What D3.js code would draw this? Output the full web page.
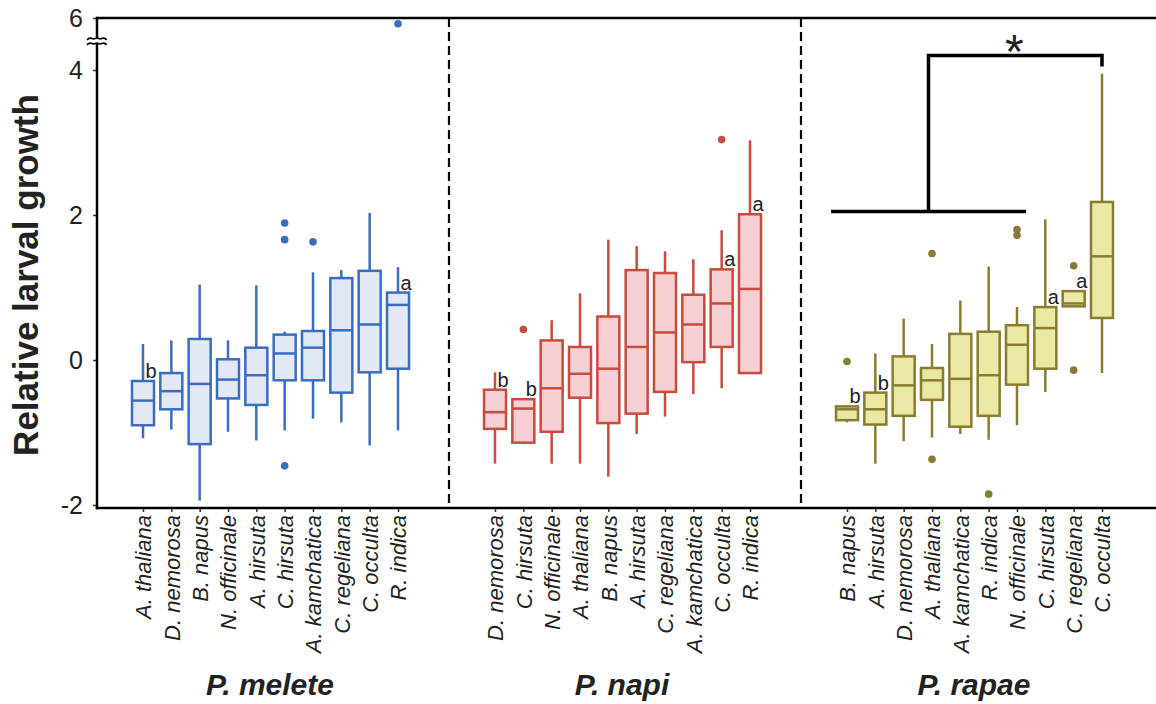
<!DOCTYPE html>
<html>
<head>
<meta charset="utf-8">
<script src="https://cdn.jsdelivr.net/npm/d3@7"></script>
<style>
  html, body { margin: 0; padding: 0; background: #fff; }
  svg { display: block; font-family: "Liberation Sans", Arial, sans-serif; }
</style>
</head>
<body>
<svg id="chart" width="1156" height="704"></svg>
<script>
// ---------------- DATA ----------------
const groups = ["P. melete", "P. napi", "P. rapae"];
const yTicks = [-2, 0, 2, 4, 6];

const meleteCats = ["A. thaliana","D. nemorosa","B. napus","N. officinale","A. hirsuta","C. hirsuta","A. kamchatica","C. regeliana","C. occulta","R. indica"];
const meleteLow  = [-1.08,-0.96,-1.94,-0.99,-1.11,-0.97,-0.81,-0.86,-1.18,-0.97];
const meleteQ1   = [-0.90,-0.68,-1.16,-0.53,-0.62,-0.28,-0.28,-0.45,-0.17,-0.12];
const meleteMed  = [-0.56,-0.43,-0.33,-0.27,-0.21, 0.09, 0.17, 0.41, 0.49, 0.76];
const meleteQ3   = [-0.29,-0.18, 0.29, 0.01, 0.17, 0.35, 0.40, 1.13, 1.23, 0.93];
const meleteHigh = [ 0.22, 0.27, 1.04, 0.27, 1.03, 0.39, 1.21, 1.24, 2.03, 1.28];
const meleteOutCat = ["C. hirsuta","C. hirsuta","C. hirsuta","A. kamchatica","R. indica"];
const meleteOutVal = [1.89, 1.66, -1.46, 1.63, 5.6];
const meleteLetterCat = ["A. thaliana","R. indica"];
const meleteLetter    = ["b","a"];

const napiCats = ["D. nemorosa","C. hirsuta","N. officinale","A. thaliana","B. napus","A. hirsuta","C. regeliana","A. kamchatica","C. occulta","R. indica"];
const napiLow  = [-1.43,-1.16,-1.43,-1.43,-1.61,-1.02,-0.78,-0.47,-0.39,-0.18];
const napiQ1   = [-0.95,-1.14,-0.99,-0.52,-0.87,-0.74,-0.44,-0.03, 0.18,-0.18];
const napiMed  = [-0.72,-0.67,-0.39,-0.19,-0.12, 0.18, 0.38, 0.49, 0.78, 0.98];
const napiQ3   = [-0.41,-0.54, 0.27, 0.18, 0.60, 1.24, 1.20, 0.90, 1.25, 2.01];
const napiHigh = [-0.17,-0.54, 0.55, 0.92, 1.66, 1.57, 1.50, 1.39, 1.79, 3.03];
const napiOutCat = ["C. hirsuta","C. occulta"];
const napiOutVal = [0.42, 3.04];
const napiLetterCat = ["D. nemorosa","C. hirsuta","C. occulta","R. indica"];
const napiLetter    = ["b","b","a","a"];

const rapaeCats = ["B. napus","A. hirsuta","D. nemorosa","A. thaliana","A. kamchatica","R. indica","N. officinale","C. hirsuta","C. regeliana","C. occulta"];
const rapaeLow  = [-0.86,-1.43,-1.12,-1.07,-1.02,-1.10,-0.90,-0.44, 0.74,-0.18];
const rapaeQ1   = [-0.83,-0.89,-0.77,-0.55,-0.92,-0.77,-0.34,-0.12, 0.74, 0.58];
const rapaeMed  = [-0.68,-0.68,-0.35,-0.28,-0.26,-0.21, 0.21, 0.44, 0.78, 1.43];
const rapaeQ3   = [-0.64,-0.45, 0.05,-0.11, 0.36, 0.39, 0.48, 0.73, 0.95, 2.18];
const rapaeHigh = [-0.62, 0.09, 0.57, 0.22, 0.82, 1.29, 0.73, 1.94, 0.95, 3.95];
const rapaeOutCat = ["B. napus","A. thaliana","A. thaliana","R. indica","N. officinale","N. officinale","C. regeliana","C. regeliana"];
const rapaeOutVal = [-0.02, 1.47, -1.37, -1.85, 1.80, 1.72, 1.30, -0.14];
const rapaeLetterCat = ["B. napus","A. hirsuta","C. hirsuta","C. regeliana"];
const rapaeLetter    = ["b","b","a","a"];

// significance bracket (P. rapae): group spanning first..seventh vs C. occulta
const bracketFrom = ["B. napus","N. officinale"];
const bracketTo = "C. occulta";
const bracketY = [2.05, 4.2, 4.05];   // low bar, top bar, end of drop
const bracketLabel = "*";

const strokeColors = ["#3a6dbf", "#c84a40", "#877c31"];
const fillColors   = ["#e3e8f5", "#f5cfd1", "#ebe8a3"];

// ---------------- BUILD ----------------
function pack(cats, lo, q1, med, q3, hi, oc, ov, lc, lt) {
  return {
    boxes: cats.map((c, i) => ({cat: c, lo: lo[i], q1: q1[i], med: med[i], q3: q3[i], hi: hi[i]})),
    outliers: oc.map((c, i) => ({cat: c, v: ov[i]})),
    letters: lc.map((c, i) => ({cat: c, t: lt[i]})),
    cats: cats
  };
}
const panels = [
  pack(meleteCats, meleteLow, meleteQ1, meleteMed, meleteQ3, meleteHigh, meleteOutCat, meleteOutVal, meleteLetterCat, meleteLetter),
  pack(napiCats, napiLow, napiQ1, napiMed, napiQ3, napiHigh, napiOutCat, napiOutVal, napiLetterCat, napiLetter),
  pack(rapaeCats, rapaeLow, rapaeQ1, rapaeMed, rapaeQ3, rapaeHigh, rapaeOutCat, rapaeOutVal, rapaeLetterCat, rapaeLetter)
];

const svg = d3.select("#chart");
const plotLeft = 97, plotRight = 1153, plotTop = 18, plotBottom = 508;

// broken y axis: linear up to 4.4, compressed above
const y = d3.scaleLinear().domain([-2, 4.4, 6]).range([505, 41, 18]);
const panelX = d3.scaleBand().domain(groups).range([plotLeft, plotRight]);
const boxW = 22;

// top border
svg.append("line").attr("x1", plotLeft).attr("x2", 1156).attr("y1", plotTop).attr("y2", plotTop)
  .attr("stroke", "#000").attr("stroke-width", 2.5);

// dashed separators
groups.slice(1).forEach(g => {
  svg.append("line").attr("x1", panelX(g)).attr("x2", panelX(g))
    .attr("y1", plotTop).attr("y2", plotBottom)
    .attr("stroke", "#000").attr("stroke-width", 2.2).attr("stroke-dasharray", "9,5");
});

groups.forEach((g, gi) => {
  const p = panels[gi];
  const left = panelX(g), right = left + panelX.bandwidth();
  const x = d3.scalePoint().domain(p.cats).range([left + 46, right - 51]);
  const sc = strokeColors[gi], fc = fillColors[gi];
  const G = svg.append("g");

  // x axis ticks & labels
  const ax = svg.append("g").attr("transform", `translate(0,${plotBottom})`)
    .call(d3.axisBottom(x).tickSize(4).tickPadding(7));
  ax.select(".domain").remove();
  ax.selectAll(".tick line").attr("stroke", "#333").attr("stroke-width", 1.5);
  ax.selectAll(".tick text")
    .attr("transform", "rotate(-90)")
    .attr("x", -7).attr("y", 0).attr("dy", "0.36em")
    .style("text-anchor", "end")
    .style("font-style", "italic")
    .style("font-size", "22px")
    .style("font-family", "'Liberation Sans', Arial, sans-serif")
    .attr("fill", "#222");

  // whiskers
  G.selectAll(".wh").data(p.boxes).join("line")
    .attr("x1", d => x(d.cat)).attr("x2", d => x(d.cat))
    .attr("y1", d => y(d.lo)).attr("y2", d => y(d.hi))
    .attr("stroke", sc).attr("stroke-width", 2.5);
  // boxes
  G.selectAll(".bx").data(p.boxes).join("rect")
    .attr("x", d => x(d.cat) - boxW / 2).attr("width", boxW)
    .attr("y", d => y(d.q3)).attr("height", d => y(d.q1) - y(d.q3))
    .attr("fill", fc).attr("stroke", sc).attr("stroke-width", 2.5);
  // medians
  G.selectAll(".md").data(p.boxes).join("line")
    .attr("x1", d => x(d.cat) - boxW / 2).attr("x2", d => x(d.cat) + boxW / 2)
    .attr("y1", d => y(d.med)).attr("y2", d => y(d.med))
    .attr("stroke", sc).attr("stroke-width", 2.5);
  // outliers
  G.selectAll(".ol").data(p.outliers).join("circle")
    .attr("cx", d => x(d.cat)).attr("cy", d => y(d.v)).attr("r", 3.8)
    .attr("fill", sc);
  // letters
  const q3Of = c => p.boxes.find(b => b.cat === c).q3;
  G.selectAll(".lt").data(p.letters).join("text")
    .attr("x", d => x(d.cat) + 2.5).attr("y", d => y(q3Of(d.cat)) - 3)
    .attr("font-size", 20).attr("fill", "#222").text(d => d.t);

  // facet label
  svg.append("text").attr("x", left + panelX.bandwidth() / 2 - 3).attr("y", 695)
    .attr("text-anchor", "middle").attr("font-size", 30).attr("font-weight", "bold")
    .attr("font-style", "italic").attr("fill", "#222").text(g);

  // bracket on last panel
  if (gi === 2) {
    const xa = x(bracketFrom[0]) - 16, xb = x(bracketFrom[1]) + 9;
    const xm = (xa + xb) / 2, xt = x(bracketTo);
    const B = svg.append("g").attr("stroke", "#000").attr("stroke-width", 3.5).attr("fill", "none");
    B.append("line").attr("x1", xa).attr("x2", xb).attr("y1", y(bracketY[0])).attr("y2", y(bracketY[0]));
    B.append("path").attr("d", `M${xm},${y(bracketY[0])}V${y(bracketY[1])}H${xt}V${y(bracketY[2])}`);
    svg.append("text").attr("x", (xm + xt) / 2 - 1).attr("y", y(bracketY[1]) + 12)
      .attr("text-anchor", "middle").attr("font-size", 48).attr("fill", "#222").text(bracketLabel);
  }
});

// y axis
const yax = svg.append("g").attr("transform", `translate(${plotLeft},0)`)
  .call(d3.axisLeft(y).tickValues(yTicks).tickFormat(d => String(d)).tickSize(4).tickPadding(10));
yax.select(".domain").remove();
yax.selectAll(".tick line").attr("stroke", "#333").attr("stroke-width", 1.5);
yax.selectAll(".tick text").style("font-size", "25px").attr("fill", "#222")
  .style("font-family", "'Liberation Sans', Arial, sans-serif");
svg.append("line").attr("x1", plotLeft).attr("x2", plotLeft).attr("y1", plotTop - 1.2).attr("y2", plotBottom + 1.2)
  .attr("stroke", "#000").attr("stroke-width", 2.5);
// bottom axis line
svg.append("line").attr("x1", plotLeft - 1.2).attr("x2", 1156).attr("y1", plotBottom).attr("y2", plotBottom)
  .attr("stroke", "#000").attr("stroke-width", 2.5);

// axis break symbol
const yb = y(4.4);
svg.append("rect").attr("x", plotLeft - 9).attr("y", yb - 3).attr("width", 18).attr("height", 6).attr("fill", "#fff");
[-2.5, 2.5].forEach(o => {
  const pts = d3.range(0, 7).map(i => [plotLeft - 10 + i * 3.3, yb + o + (i % 2 ? -1.3 : 1.3)]);
  svg.append("path").attr("d", d3.line().curve(d3.curveBasis)(pts))
    .attr("stroke", "#000").attr("stroke-width", 1.8).attr("fill", "none");
});

// y title
svg.append("text").attr("transform", "translate(38,275) rotate(-90)")
  .attr("text-anchor", "middle").attr("font-size", 35).attr("font-weight", "bold")
  .attr("fill", "#222").text("Relative larval growth");
</script>
</body>
</html>
